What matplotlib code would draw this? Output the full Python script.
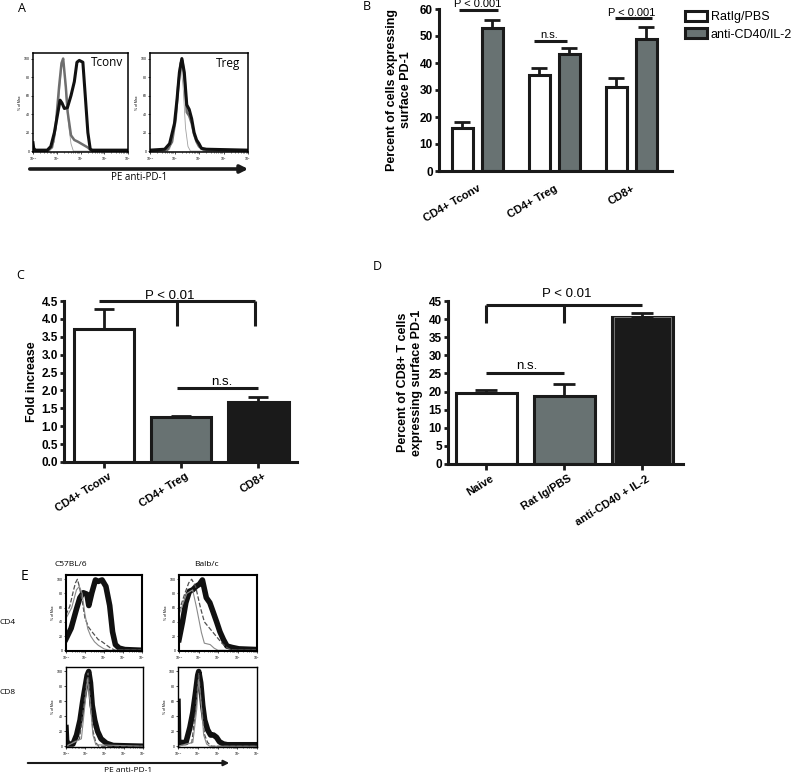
import numpy as np
import matplotlib
matplotlib.use('Agg')
import matplotlib.pyplot as plt
import matplotlib.transforms as mtransforms
from matplotlib.patches import FancyArrowPatch
from matplotlib.ticker import FormatStrFormatter

W, H = 795, 773
plt.rcParams['font.family'] = ['Liberation Sans', 'DejaVu Sans']

# ---------------- data ----------------
# panel B: % PD-1+ cells
b_groups = ['CD4+ Tconv', 'CD4+ Treg', 'CD8+']
b_ratig = [16, 35.5, 31]
b_ratig_err = [2, 2.5, 3.3]
b_cd40 = [53, 43.5, 49]
b_cd40_err = [3, 2, 4.5]

# panel C: fold increase
c_groups = ['CD4+ Tconv', 'CD4+ Treg', 'CD8+']
c_fold = [3.72, 1.25, 1.68]
c_fold_err = [0.55, 0.03, 0.15]

# panel D: % CD8+ PD-1+
d_groups = ['Naive', 'Rat Ig/PBS', 'anti-CD40 + IL-2']
d_pct = [19.5, 18.8, 40.5]
d_pct_err = [1.0, 3.2, 1.2]

# panel A histograms (x = log10 fluorescence, y = % of max)
tconv_blk_x = [-1, -0.97, -0.9, -0.4, -0.25, -0.1, 0.05, 0.14, 0.22, 0.32, 0.45, 0.6, 0.74, 0.85, 0.95, 1.1, 1.2, 1.31, 1.41, 1.5, 3]
tconv_blk_y = [9, 3, 1, 1, 5, 20, 42, 55, 52, 46, 47, 60, 75, 96, 98, 96, 60, 20, 2, 1, 1]
tconv_gry_x = [-1, -0.4, -0.2, -0.05, 0.1, 0.2, 0.27, 0.38, 0.46, 0.6, 0.74, 0.9, 1.1, 1.3, 1.5, 3]
tconv_gry_y = [0, 0, 4, 25, 70, 95, 100, 70, 42, 17, 12, 10, 7, 4, 0, 0]
tconv_iso_x = [-1, -0.3, -0.1, 0.05, 0.2, 0.3, 0.4, 0.5, 0.6, 0.7, 3]
tconv_iso_y = [0, 0, 10, 45, 90, 95, 55, 28, 8, 0, 0]

treg_blk_x = [-1, -0.4, -0.2, 0.0, 0.1, 0.2, 0.3, 0.4, 0.5, 0.6, 0.7, 0.8, 0.9, 1.0, 1.1, 1.3, 3]
treg_blk_y = [1, 2, 8, 30, 55, 85, 100, 85, 50, 45, 35, 20, 12, 8, 3, 2, 1]
treg_gry_x = [-1, -0.3, -0.1, 0.05, 0.15, 0.25, 0.32, 0.42, 0.5, 0.6, 0.7, 0.8, 0.9, 1.0, 1.2, 3]
treg_gry_y = [0, 1, 10, 35, 70, 95, 98, 75, 42, 38, 30, 18, 10, 5, 1, 0]
treg_iso_x = [-1, -0.2, 0.0, 0.15, 0.25, 0.35, 0.45, 0.55, 0.65, 3]
treg_iso_y = [0, 2, 25, 70, 95, 70, 25, 5, 0, 0]

# panel E histograms
c57_cd4_blk_x = [-1, -0.73, -0.45, -0.27, -0.09, 0.1, 0.2, 0.36, 0.55, 0.7, 0.9, 1.1, 1.3, 1.45, 1.6, 1.8, 2.1, 3]
c57_cd4_blk_y = [16, 31, 58, 74, 81, 79, 63, 81, 99, 97, 99, 90, 63, 26, 8, 3, 1, 0]
c57_cd4_dsh_x = [-1, -0.8, -0.6, -0.5, -0.4, -0.3, -0.15, 0.0, 0.2, 0.4, 0.7, 0.9, 1.1, 1.35, 1.6, 3]
c57_cd4_dsh_y = [50, 62, 85, 95, 100, 90, 70, 45, 32, 25, 15, 12, 8, 3, 0, 0]
c57_cd4_iso_x = [-1, -0.7, -0.45, -0.3, -0.15, 0.0, 0.15, 0.3, 0.5, 0.7, 1.0, 1.3, 3]
c57_cd4_iso_y = [45, 60, 85, 90, 80, 50, 30, 20, 12, 7, 2, 0, 0]

balb_cd4_blk_x = [-1, -0.82, -0.65, -0.47, -0.3, -0.12, 0.05, 0.2, 0.4, 0.58, 0.75, 0.93, 1.1, 1.28, 1.46, 1.72, 2.07, 3]
balb_cd4_blk_y = [15, 40, 67, 83, 85, 90, 93, 99, 74, 67, 54, 40, 26, 15, 6, 4, 2, 1]
balb_cd4_dsh_x = [-1, -0.7, -0.5, -0.35, -0.15, 0.1, 0.3, 0.6, 0.9, 1.2, 1.5, 1.8, 3]
balb_cd4_dsh_y = [55, 80, 95, 100, 90, 60, 40, 30, 20, 10, 3, 0, 0]
balb_cd4_iso_x = [-1, -0.6, -0.3, -0.1, 0.15, 0.3, 0.6, 0.8, 1.0, 3]
balb_cd4_iso_y = [50, 80, 85, 60, 25, 10, 8, 3, 0, 0]

c57_cd8_blk_x = [-1, -0.97, -0.9, -0.64, -0.45, -0.27, -0.13, 0.0, 0.1, 0.18, 0.27, 0.36, 0.49, 0.64, 0.82, 1.1, 1.45, 3]
c57_cd8_blk_y = [25, 8, 3, 3, 15, 35, 60, 80, 95, 100, 85, 55, 35, 20, 10, 4, 1, 0]
c57_cd8_dsh_x = [-1, -0.3, 0.0, 0.15, 0.3, 0.4, 0.55, 0.7, 3]
c57_cd8_dsh_y = [0, 10, 70, 98, 50, 20, 5, 0, 0]
c57_cd8_iso_x = [-1, -0.2, 0.0, 0.12, 0.25, 0.4, 0.55, 3]
c57_cd8_iso_y = [0, 10, 60, 90, 60, 15, 2, 0]

balb_cd8_blk_x = [-1, -0.97, -0.95, -0.6, -0.4, -0.25, -0.12, 0.0, 0.05, 0.15, 0.25, 0.35, 0.5, 0.65, 0.8, 0.95, 1.1, 1.3, 1.5, 3]
balb_cd8_blk_y = [60, 10, 5, 5, 25, 45, 70, 95, 100, 85, 55, 35, 22, 15, 15, 12, 6, 3, 2, 2]
balb_cd8_dsh_x = [-1, -0.3, -0.1, 0.05, 0.2, 0.35, 0.5, 0.7, 3]
balb_cd8_dsh_y = [0, 5, 50, 98, 50, 15, 5, 0, 0]
balb_cd8_iso_x = [-1, -0.25, -0.05, 0.05, 0.18, 0.3, 0.45, 0.6, 3]
balb_cd8_iso_y = [0, 5, 50, 90, 55, 15, 3, 0, 0]

# ---------------- helpers ----------------
def px(l, t, r, b):
    return [l / W, 1 - b / H, (r - l) / W, (b - t) / H]


def ftext(x, y, s, **kw):
    fig.text(x / W, 1 - y / H, s, **kw)


def farrow(x0, x1, y, lw, ms):
    fig.add_artist(FancyArrowPatch((x0 / W, 1 - y / H), (x1 / W, 1 - y / H),
                                   transform=fig.transFigure, arrowstyle='-|>',
                                   mutation_scale=ms, lw=lw, color='#1a1a1a'))


def flow_panel(rect, curves, frame_lw):
    ax = fig.add_axes(rect)
    for xs, ys, style in curves:
        ax.plot(10.0 ** np.array(xs), ys, **style)
    ax.set_xscale('log')
    ax.set_xlim(0.1, 1000)
    ax.set_ylim(-1, 106)
    ax.set_yticks([0, 20, 40, 60, 80, 100])
    ax.tick_params(labelsize=2.5, length=1.5, width=0.5, pad=1)
    ax.tick_params(which='minor', length=0.8, width=0.4)
    for s in ax.spines.values():
        s.set_linewidth(frame_lw)
    ax.set_ylabel('% of Max', fontsize=2.5, labelpad=1)
    return ax


def prism_style(ax, ticklen):
    for s in ['top', 'right']:
        ax.spines[s].set_visible(False)
    for s in ['left', 'bottom']:
        ax.spines[s].set_linewidth(2.2)
        ax.spines[s].set_color('#1a1a1a')
    ax.tick_params(axis='y', length=3, width=2, pad=1.5, labelsize=8.5, color='#1a1a1a')
    ax.tick_params(axis='x', length=ticklen, width=2, labelsize=8, color='#1a1a1a')
    for lab in ax.get_yticklabels():
        lab.set_fontweight('bold')


def shift_xlabels(ax, dx_px):
    off = mtransforms.ScaledTranslation(dx_px / 100, 0, fig.dpi_scale_trans)
    for lab in ax.get_xticklabels():
        lab.set_transform(lab.get_transform() + off)


def bracket(ax, xs, ys):
    ax.plot(xs, ys, color='#1a1a1a', lw=2.2, clip_on=False, solid_capstyle='butt')


fig = plt.figure(figsize=(W / 100, H / 100), dpi=100)

blk = dict(color='#111111', lw=2.2, solid_joinstyle='round')
gry = dict(color='#6e6e6e', lw=1.8)
iso = dict(color='#a0a0a0', lw=0.6)

# ---------------- panel A ----------------
flow_panel(px(33, 53, 128, 152), [(tconv_iso_x, tconv_iso_y, iso),
                                  (tconv_gry_x, tconv_gry_y, gry),
                                  (tconv_blk_x, tconv_blk_y, blk)], 1.1)
flow_panel(px(150, 53, 248, 152), [(treg_iso_x, treg_iso_y, iso),
                                   (treg_gry_x, treg_gry_y, gry),
                                   (treg_blk_x, treg_blk_y, blk)], 1.1)
ftext(107, 63, 'Tconv', family='Open Sans', fontsize=8.5, ha='center', va='center')
ftext(228, 63, 'Treg', family='Open Sans', fontsize=8.5, ha='center', va='center')
farrow(27, 251, 169, 2.6, 11)
ftext(139, 178, 'PE anti-PD-1', family='Open Sans', fontsize=7, ha='center', va='center')
ftext(22, 9, 'A', family='Open Sans', fontsize=9, ha='center', va='center')

# ---------------- panel B ----------------
axB = fig.add_axes(px(439, 9, 672, 171))
xb = np.arange(len(b_groups))
h1 = axB.bar(xb - 0.195, b_ratig, 0.27, color='white', edgecolor='#1a1a1a', lw=2.2,
             yerr=[[0] * 3, b_ratig_err], error_kw=dict(capsize=6, elinewidth=2, capthick=2, ecolor='#1a1a1a'),
             label='RatIg/PBS')
h2 = axB.bar(xb + 0.195, b_cd40, 0.27, color='#687272', edgecolor='#1a1a1a', lw=2.2,
             yerr=[[0] * 3, b_cd40_err], error_kw=dict(capsize=6, elinewidth=2, capthick=2, ecolor='#1a1a1a'),
             label='anti-CD40/IL-2')
axB.set_xlim(-0.5, 2.53)
axB.set_ylim(0, 60)
axB.set_yticks(range(0, 61, 10))
axB.set_xticks(xb)
axB.set_xticklabels(b_groups, rotation=30, ha='right', rotation_mode='anchor', fontweight='bold')
prism_style(axB, 0)
axB.tick_params(axis='x', pad=9)
axB.set_ylabel('Percent of cells expressing\nsurface PD-1', fontsize=9, fontweight='bold')
axB.yaxis.set_label_coords(-0.116, 0.5)
bracket(axB, [-0.24, 0.27], [59.6, 59.6])
bracket(axB, [0.74, 1.16], [48.1, 48.1])
bracket(axB, [1.79, 2.27], [56.5, 56.5])
axB.text(0, 59.9, 'P < 0.001', ha='center', va='bottom', fontsize=8)
axB.text(0.93, 48.4, 'n.s.', ha='center', va='bottom', fontsize=8)
axB.text(2.01, 56.8, 'P < 0.001', ha='center', va='bottom', fontsize=8)
axB.legend(handles=[h1, h2], loc='upper left', bbox_to_anchor=(685 / W, 1 - 11 / H),
           bbox_transform=fig.transFigure, frameon=False, fontsize=9, borderpad=0,
           borderaxespad=0, handlelength=1.75, handleheight=0.85, handletextpad=0.3,
           labelspacing=0.4)
ftext(367, 7, 'B', family='Open Sans', fontsize=9, ha='center', va='center')

# ---------------- panel C ----------------
axC = fig.add_axes(px(64, 301, 297, 462))
xc = np.arange(len(c_groups))
axC.bar(xc, c_fold, 0.78, color=['white', '#687272', '#1a1a1a'], edgecolor='#1a1a1a', lw=2.2,
        yerr=[[0] * 3, c_fold_err], error_kw=dict(capsize=7, elinewidth=2, capthick=2, ecolor='#1a1a1a'))
axC.set_xlim(-0.52, 2.5)
axC.set_ylim(0, 4.5)
axC.set_yticks(np.arange(0, 4.51, 0.5))
axC.yaxis.set_major_formatter(FormatStrFormatter('%.1f'))
axC.set_xticks(xc)
axC.set_xticklabels(c_groups, rotation=32, ha='right', rotation_mode='anchor', fontweight='bold')
prism_style(axC, 4)
axC.tick_params(axis='x', pad=2.5)
shift_xlabels(axC, 4)
axC.set_ylabel('Fold increase', fontsize=9, fontweight='bold')
axC.yaxis.set_label_coords(-0.112, 0.5)
bracket(axC, [-0.06, 1.96], [4.5, 4.5])
bracket(axC, [0.95, 0.95], [4.5, 3.8])
bracket(axC, [1.95, 1.95], [4.5, 3.8])
bracket(axC, [0.94, 2.0], [2.08, 2.08])
axC.text(0.85, 4.47, 'P < 0.01', ha='center', va='bottom', fontsize=9.5)
axC.text(1.52, 2.06, 'n.s.', ha='center', va='bottom', fontsize=9.5)
ftext(20, 275, 'C', family='Open Sans', fontsize=9, ha='center', va='center')

# ---------------- panel D ----------------
axD = fig.add_axes(px(448, 301, 683, 464))
xd = np.arange(len(d_groups))
axD.bar(xd, d_pct, 0.78, color=['white', '#687272', '#1a1a1a'], edgecolor='#1a1a1a', lw=2.2,
        yerr=[[0] * 3, d_pct_err], error_kw=dict(capsize=8, elinewidth=2, capthick=2, ecolor='#1a1a1a'))
axD.bar(xd[2:], d_pct[2:], 0.72, fill=False, edgecolor='#9a9a9a', lw=0.5)
axD.set_xlim(-0.49, 2.52)
axD.set_ylim(0, 45)
axD.set_yticks(range(0, 46, 5))
axD.set_xticks(xd)
axD.set_xticklabels(d_groups, rotation=32, ha='right', rotation_mode='anchor', fontweight='bold')
prism_style(axD, 4.5)
axD.tick_params(axis='x', pad=2.5)
shift_xlabels(axD, 4)
axD.set_ylabel('Percent of CD8+ T cells\nexpressing surface PD-1', fontsize=9, fontweight='bold')
axD.yaxis.set_label_coords(-0.106, 0.5)
bracket(axD, [0, 2], [44, 44])
bracket(axD, [0, 0], [44, 39])
bracket(axD, [1, 1], [44, 39])
bracket(axD, [0, 1], [25, 25])
axD.text(1.03, 45.3, 'P < 0.01', ha='center', va='bottom', fontsize=9.5)
axD.text(0.52, 25.3, 'n.s.', ha='center', va='bottom', fontsize=9.5)
ftext(377, 267, 'D', family='Open Sans', fontsize=9, ha='center', va='center')

# ---------------- panel E ----------------
eblk = dict(color='#111111', lw=4, solid_joinstyle='round')
edsh = dict(color='#505050', lw=0.9, ls='--')
eiso = dict(color='#8a8a8a', lw=0.8)
flow_panel(px(66, 575, 142, 651), [(c57_cd4_blk_x, c57_cd4_blk_y, eblk),
                                   (c57_cd4_dsh_x, c57_cd4_dsh_y, edsh),
                                   (c57_cd4_iso_x, c57_cd4_iso_y, eiso)], 1.5)
flow_panel(px(179, 575, 257, 651), [(balb_cd4_blk_x, balb_cd4_blk_y, eblk),
                                    (balb_cd4_dsh_x, balb_cd4_dsh_y, edsh),
                                    (balb_cd4_iso_x, balb_cd4_iso_y, eiso)], 1.5)
flow_panel(px(66, 667, 143, 747), [(c57_cd8_blk_x, c57_cd8_blk_y, eblk),
                                   (c57_cd8_dsh_x, c57_cd8_dsh_y, edsh),
                                   (c57_cd8_iso_x, c57_cd8_iso_y, eiso)], 1.0)
flow_panel(px(178, 667, 257, 747), [(balb_cd8_blk_x, balb_cd8_blk_y, eblk),
                                    (balb_cd8_dsh_x, balb_cd8_dsh_y, edsh),
                                    (balb_cd8_iso_x, balb_cd8_iso_y, eiso)], 1.0)
ftext(71, 564, 'C57BL/6', family='Open Sans', fontsize=6, ha='center', va='center')
ftext(206, 564, 'Balb/c', family='Open Sans', fontsize=6, ha='center', va='center')
ftext(0, 622, 'CD4', family='Open Sans', fontsize=6, ha='left', va='center')
ftext(0, 692, 'CD8', family='Open Sans', fontsize=6, ha='left', va='center')
ftext(24, 576, 'E', family='Open Sans', fontsize=10, ha='center', va='center')
farrow(25, 232, 763, 1.5, 8)
ftext(128, 770, 'PE anti-PD-1', family='Open Sans', fontsize=6, ha='center', va='center')

fig.savefig('out.png', dpi=100)
